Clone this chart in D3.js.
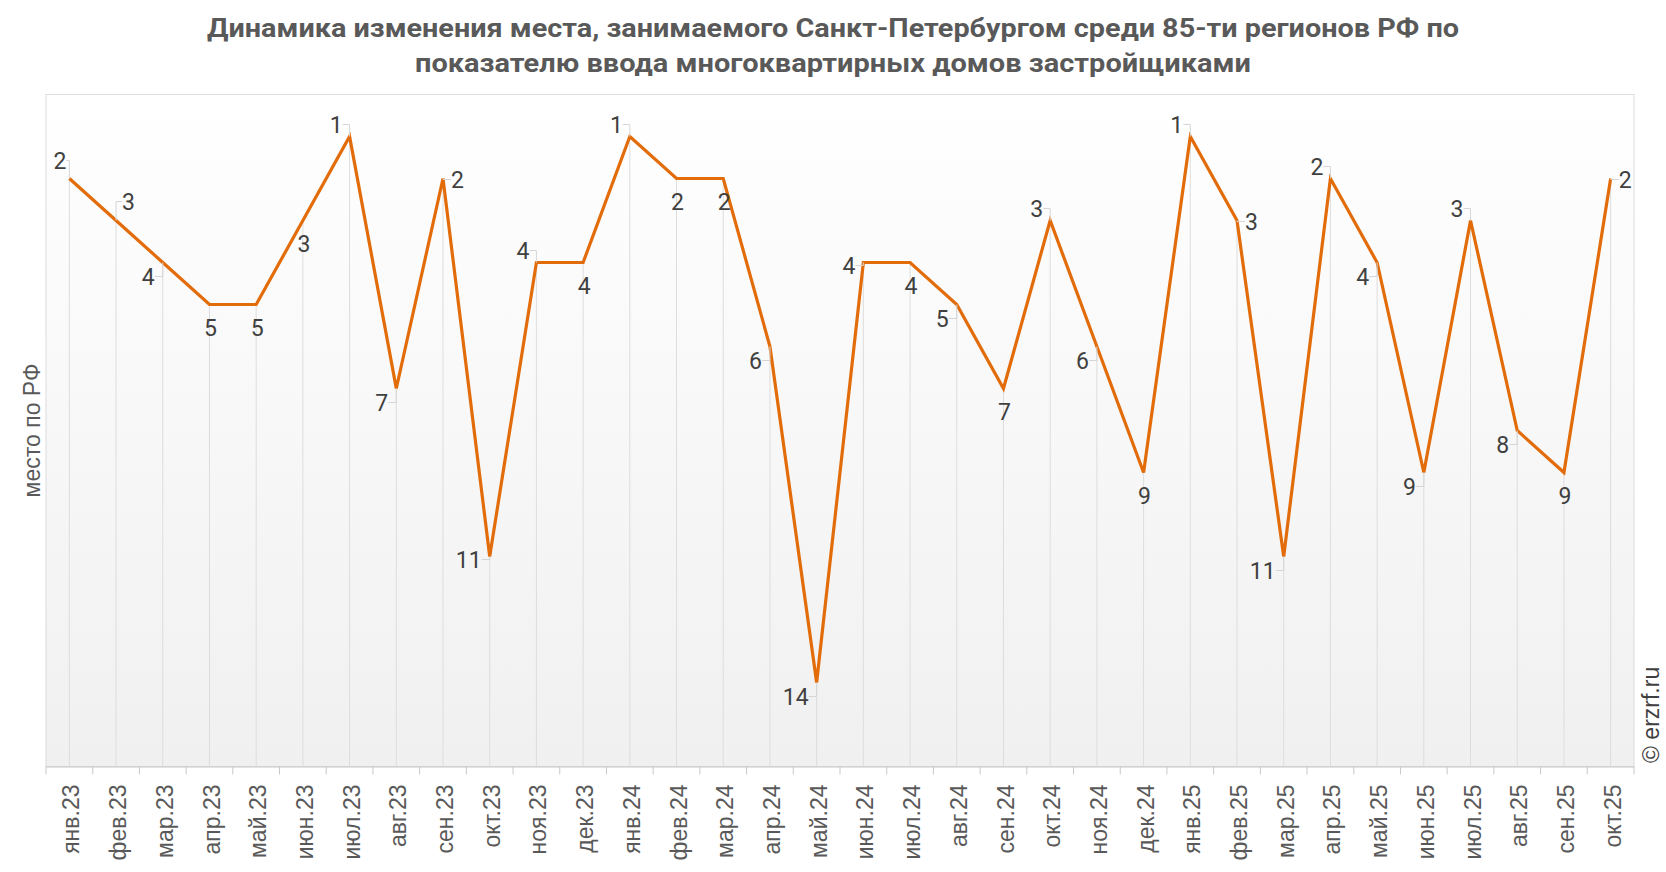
<!DOCTYPE html>
<html>
<head>
<meta charset="utf-8">
<script src="https://cdn.jsdelivr.net/npm/d3@7"></script>
<style>
  body { margin: 0; background: #fff; }
</style>
</head>
<body>
<div id="chart"></div>
<script>
const months = ['янв.23', 'фев.23', 'мар.23', 'апр.23', 'май.23', 'июн.23', 'июл.23', 'авг.23', 'сен.23', 'окт.23', 'ноя.23', 'дек.23',
  'янв.24', 'фев.24', 'мар.24', 'апр.24', 'май.24', 'июн.24', 'июл.24', 'авг.24', 'сен.24', 'окт.24', 'ноя.24', 'дек.24',
  'янв.25', 'фев.25', 'мар.25', 'апр.25', 'май.25', 'июн.25', 'июл.25', 'авг.25', 'сен.25', 'окт.25'];
const ranks = [2, 3, 4, 5, 5, 3, 1, 7, 2, 11, 4, 4,
  1, 2, 2, 6, 14, 4, 4, 5, 7, 3, 6, 9,
  1, 3, 11, 2, 4, 9, 3, 8, 9, 2];
// where each value label sits relative to its point
const labelPlace = ['tn', 'tr', 'bl', 'b', 'b', 'b', 'tl', 'bl', 'r', 'l', 'tl', 'b',
  'tl', 'b', 'b', 'bl', 'bl', 'l', 'b', 'bl', 'b', 'tl', 'bl', 'b',
  'tl', 'r', 'bl', 'tl', 'bl', 'bl', 'tl', 'bl', 'b', 'r'];
const titleLines = ['Динамика изменения места, занимаемого Санкт-Петербургом среди 85-ти регионов РФ по',
  'показателю ввода многоквартирных домов застройщиками'];

const width = 1666;
const height = 872;
const margin = { top: 94.5, bottom: 105.5, left: 46, right: 32 };

const svg = d3.select('#chart')
  .append('svg')
  .attr('width', width)
  .attr('height', height)
  .style('font-family', 'Roboto, sans-serif');

const x = d3.scaleBand()
  .domain(months)
  .range([margin.left, width - margin.right])
  .padding(0);

const y = d3.scaleLinear()
  .domain([0, 16])
  .range([margin.top, height - margin.bottom]);

const cx = d => x(d) + x.bandwidth() / 2;
const bottom = height - margin.bottom;

// background gradient
const grad = svg.append('defs').append('linearGradient')
  .attr('id', 'bg').attr('x1', 0).attr('y1', 0).attr('x2', 0).attr('y2', 1);
grad.append('stop').attr('offset', '0%').attr('stop-color', '#ffffff');
grad.append('stop').attr('offset', '100%').attr('stop-color', '#f0f0f0');

svg.append('rect')
  .attr('x', margin.left)
  .attr('y', margin.top)
  .attr('width', width - margin.left - margin.right)
  .attr('height', bottom - margin.top)
  .attr('fill', 'url(#bg)')
  .attr('stroke', '#dcdcdc');

// title
svg.append('g')
  .selectAll('text')
  .data(titleLines)
  .join('text')
    .attr('x', width / 2)
    .attr('y', (d, i) => 37 + i * 35)
    .attr('text-anchor', 'middle')
    .attr('font-size', '25px')
    .attr('font-weight', 'bold')
    .attr('fill', '#595959')
    .attr('textLength', (d, i) => i === 0 ? 1252 : 836)
    .attr('lengthAdjust', 'spacingAndGlyphs')
    .text(d => d);

// drop lines
svg.append('g')
  .attr('stroke', '#dddddd')
  .attr('stroke-width', 1)
  .selectAll('line')
  .data(months)
  .join('line')
    .attr('x1', d => cx(d))
    .attr('x2', d => cx(d))
    .attr('y1', (d, i) => y(ranks[i]))
    .attr('y2', bottom);

// x axis
function xAxis(g) {
  g.attr('transform', `translate(0,${bottom})`)
    .call(d3.axisBottom(x).tickSize(0).tickPadding(0))
    .call(g => g.select('.domain').attr('stroke', '#c8c8c8'))
    .call(g => g.selectAll('.tick text')
      .attr('transform', 'rotate(-90)')
      .attr('x', -18)
      .attr('y', 2)
      .attr('dy', '0.35em')
      .attr('text-anchor', 'end')
      .attr('fill', '#595959')
      .style('font-family', '"Liberation Sans", Arial, sans-serif')
      .style('font-size', '23px'));
}
svg.append('g').call(xAxis);

// boundary ticks between months
svg.append('g')
  .attr('stroke', '#c8c8c8')
  .selectAll('line')
  .data(months.concat(['end']))
  .join('line')
    .attr('x1', (d, i) => i < months.length ? x(d) : x(months[months.length - 1]) + x.bandwidth())
    .attr('x2', (d, i) => i < months.length ? x(d) : x(months[months.length - 1]) + x.bandwidth())
    .attr('y1', bottom)
    .attr('y2', bottom + 8);

// line
const line = d3.line()
  .x((d, i) => cx(months[i]))
  .y(d => y(d));

svg.append('path')
  .datum(ranks)
  .attr('fill', 'none')
  .attr('stroke', '#e36c0a')
  .attr('stroke-width', 3.2)
  .attr('stroke-linejoin', 'miter')
  .attr('d', line);

// value labels
const place = {
  tn: { dx: -3, dy: -18, anchor: 'end' },
  tl: { dx: -7, dy: -12, anchor: 'end' },
  tr: { dx: 6, dy: -19, anchor: 'start' },
  bl: { dx: -8, dy: 14, anchor: 'end' },
  b: { dx: 1, dy: 23, anchor: 'middle' },
  r: { dx: 8, dy: 1, anchor: 'start' },
  l: { dx: -8, dy: 3, anchor: 'end' }
};

// small leader ticks
svg.append('g')
  .attr('fill', 'none')
  .attr('stroke', '#d6d6d6')
  .selectAll('path')
  .data(ranks)
  .join('path')
    .attr('d', (d, i) => {
      const p = place[labelPlace[i]];
      const px = cx(months[i]);
      const py = y(d);
      if (p.anchor === 'middle') return null;
      return `M${px + p.dx},${py + p.dy}H${px}V${py}`;
    });

svg.append('g')
  .selectAll('text')
  .data(ranks)
  .join('text')
    .attr('x', (d, i) => cx(months[i]) + place[labelPlace[i]].dx)
    .attr('y', (d, i) => y(d) + place[labelPlace[i]].dy)
    .attr('dy', '0.36em')
    .attr('text-anchor', (d, i) => place[labelPlace[i]].anchor)
    .attr('font-size', '23px')
    .attr('fill', '#404040')
    .text(d => d);

// y axis title
svg.append('text')
  .attr('transform', `translate(32,${(margin.top + bottom) / 2}) rotate(-90)`)
  .attr('dy', '0.35em')
  .attr('text-anchor', 'middle')
  .attr('font-size', '23px')
  .attr('fill', '#595959')
  .style('font-family', '"Liberation Sans", Arial, sans-serif')
  .text('место по РФ');

// source mark
svg.append('text')
  .attr('transform', `translate(1651,763) rotate(-90)`)
  .attr('dy', '0.35em')
  .attr('text-anchor', 'start')
  .attr('font-size', '23px')
  .attr('fill', '#404040')
  .style('font-family', '"Liberation Sans", Arial, sans-serif')
  .text('© erzrf.ru');

svg.node();
</script>
</body>
</html>
